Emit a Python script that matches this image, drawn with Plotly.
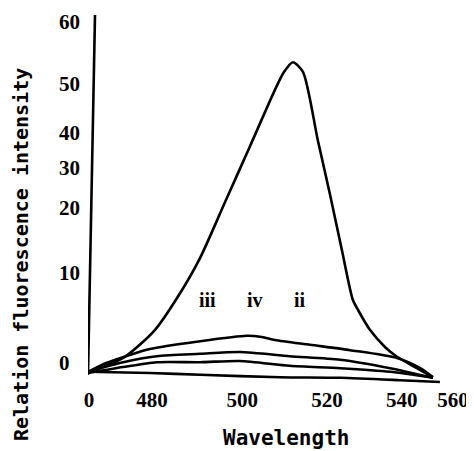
import plotly.graph_objects as go

# ---- data (x: wavelength on the chart's scale, y: relative intensity on the chart's scale) ----
wl_i = [465.8, 473.8, 480.7, 485.9, 491.0, 496.7, 502.4, 508.1, 510.2, 512.2, 514.5,
        517.9, 520.7, 523.4, 525.9, 527.1, 529.8, 533.3, 536.0, 540.1, 544.2]
int_i = [0.2, 2.7, 7.2, 12.7, 19.2, 28.5, 37.8, 47.2, 50.2, 51.8, 50.2,
         38.8, 29.7, 20.5, 12.2, 10.5, 7.2, 4.3, 2.7, 1.0, -0.7]

wl_ii = [465.4, 469.7, 479.5, 491.0, 501.7, 505.1, 508.1, 516.1, 525.3, 536.0, 541.3, 544.2]
int_ii = [0.2, 1.7, 4.0, 5.3, 6.2, 6.0, 5.5, 4.7, 3.8, 2.5, 0.8, -0.7]

wl_iii = [465.4, 473.4, 481.1, 491.0, 500.1, 511.5, 523.0, 534.4, 544.2]
int_iii = [0.2, 1.8, 2.8, 3.2, 3.5, 2.8, 2.2, 0.8, -0.8]

wl_iv = [465.4, 473.4, 481.1, 491.0, 500.1, 511.5, 523.0, 534.4, 544.2]
int_iv = [0.0, 1.0, 1.8, 1.8, 2.0, 1.2, 0.8, 0.2, -0.8]

wl_blank = [465.4, 479.5, 491.0, 509.3, 523.0, 536.7, 545.8]
int_blank = [0.2, 0.0, -0.3, -0.7, -0.8, -1.2, -1.5]

curve_labels = ["iii", "iv", "ii"]
curve_label_x = [492.6, 503.5, 513.8]
curve_label_y = [12.2, 12.2, 12.2]

x_tick_text = ["0", "480", "500", "520", "540", "560"]
x_tick_vals = [465.6, 480.0, 500.6, 520.0, 537.1, 548.8]
y_tick_text = ["0", "10", "20", "30", "40", "50", "60"]
y_tick_vals = [1.7, 16.7, 27.5, 34.2, 40.0, 48.2, 58.5]

X_RANGE = [465.37, 550.4]
Y_RANGE = [-2.0, 59.67]

fig = go.Figure()
line = dict(color="black", width=2.6, shape="spline", smoothing=0.7)
for xs, ys, name in [(wl_i, int_i, "i"), (wl_ii, int_ii, "ii"), (wl_iii, int_iii, "iii"),
                     (wl_iv, int_iv, "iv"), (wl_blank, int_blank, "blank")]:
    fig.add_trace(go.Scatter(x=xs, y=ys, mode="lines", line=line, name=name,
                             showlegend=False, hoverinfo="skip"))

for t, x, y in zip(curve_labels, curve_label_x, curve_label_y):
    fig.add_annotation(x=x, y=y, text="<b>" + t + "</b>", showarrow=False,
                       font=dict(family="Liberation Serif", size=20, color="black"),
                       xanchor="center", yanchor="middle")

# y axis line (slightly slanted as in the original drawing)
fig.add_shape(type="line", xref="x", yref="y", x0=465.37, y0=-0.3, x1=466.97, y1=59.67,
              line=dict(color="black", width=2.6))

# padded y tick labels so that they are left aligned
y_tt = [t if len(t) == 2 else t + "<span style='color:white'>0</span>" for t in y_tick_text]
y_tt = ["<b>" + t + "</b>" for t in y_tt]
x_tt = ["<b>" + t + "</b>" for t in x_tick_text]

fig.update_xaxes(range=X_RANGE, showgrid=False, zeroline=False, showline=False,
                 tickmode="array", tickvals=x_tick_vals, ticktext=x_tt, ticks="",
                 ticklabelstandoff=0, automargin=False,
                 tickfont=dict(family="Liberation Serif", size=21, color="black"))
fig.update_yaxes(range=Y_RANGE, showgrid=False, zeroline=False, showline=False,
                 tickmode="array", tickvals=y_tick_vals, ticktext=y_tt, ticks="",
                 ticklabelstandoff=7, automargin=False,
                 tickfont=dict(family="Liberation Serif", size=21, color="black"))

# page has an 8px body margin: figure is 466x443, plot area 80..452 x 7..377
fig.add_annotation(xref="paper", yref="paper", x=(278 - 80) / 372, y=(377 - 430) / 370,
                   text="<b>Wavelength</b>", showarrow=False, xanchor="center", yanchor="middle",
                   font=dict(family="DejaVu Sans Mono", size=21, color="black"))
fig.add_annotation(xref="paper", yref="paper", x=(13 - 80) / 372, y=(377 - 247) / 370,
                   text="<b>Relation fluorescence intensity</b>", showarrow=False, textangle=-90,
                   xanchor="center", yanchor="middle",
                   font=dict(family="DejaVu Sans Mono", size=20, color="black"))

fig.update_layout(width=466, height=443, margin=dict(l=80, r=14, t=7, b=66),
                  plot_bgcolor="white", paper_bgcolor="white", showlegend=False)

fig.write_html("out.html")
